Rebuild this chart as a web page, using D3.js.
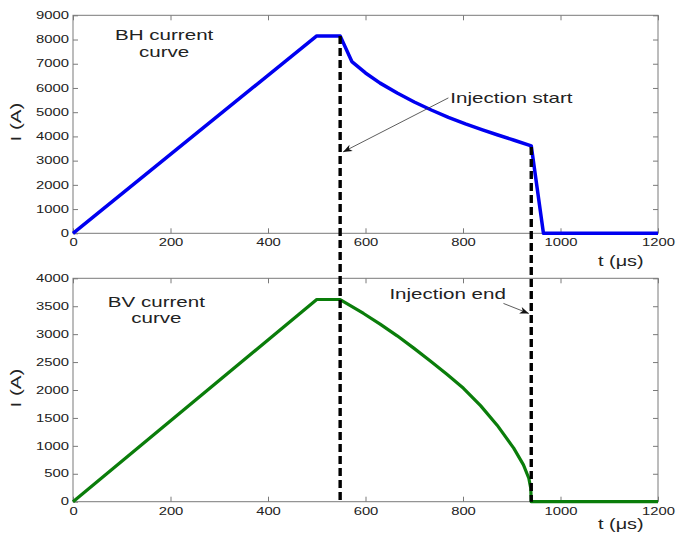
<!DOCTYPE html>
<html>
<head>
<meta charset="utf-8">
<script src="https://cdn.jsdelivr.net/npm/d3@7"></script>
<style>
  body { margin: 0; background: #fff; }
  text { font-family: "Liberation Sans", Arial, sans-serif; }
</style>
</head>
<body>
<div id="container"></div>
<script>
let w = 677;
let h = 535;

// DATA
let xTicks = [0, 200, 400, 600, 800, 1000, 1200];
let yTicksBH = [0, 1000, 2000, 3000, 4000, 5000, 6000, 7000, 8000, 9000];
let yTicksBV = [0, 500, 1000, 1500, 2000, 2500, 3000, 3500, 4000];

let bhT = [0, 500, 548, 572, 600, 630, 665, 700, 735, 770, 805, 840, 870, 905, 940, 965, 1200];
let bhI = [0, 8150, 8150, 7090, 6620, 6200, 5790, 5420, 5090, 4790, 4520, 4270, 4070, 3840, 3610, 0, 0];

let bvT = [0, 500, 548, 596, 630, 665, 699, 733, 767, 801, 836, 870, 904, 924, 935, 939, 940, 1200];
let bvI = [0, 3620, 3620, 3370, 3180, 2970, 2750, 2520, 2280, 2030, 1720, 1370, 960, 660, 420, 240, 0, 0];

// injection markers: time, and BH current where the dashed line starts
let injT = [548, 940];
let injTopI = [8150, 3560];

let viz = d3.select("#container").append("svg")
  .attr("width", w)
  .attr("height", h)
  .style("background-color", "white");

let x = d3.scaleLinear().domain([0, 1200]).range([73, 658]);
let yTop = d3.scaleLinear().domain([0, 9000]).range([233.3, 15.3]);
let yBot = d3.scaleLinear().domain([0, 4000]).range([501.7, 278.3]);

let frameColor = "#7a7a7a";
let textColor = "#222";
let tickStretch = 1.48;
let textStretch = 1.37;
let fmt = d3.format("d");

// stretched text helper (the figure's font is wide)
function addText(g, px, py, str, size, anchor, rot) {
  return g.append("text")
    .attr("transform", "translate(" + px + "," + py + ")" + (rot ? " rotate(" + rot + ")" : "") + " scale(" + textStretch + ",1)")
    .attr("text-anchor", anchor)
    .attr("font-size", size)
    .attr("fill", textColor)
    .text(str);
}

function drawFrame(y, yTicks) {
  let g = viz.append("g");
  let x0 = x.range()[0], x1 = x.range()[1];
  let y0 = y.range()[0], y1 = y.range()[1];

  let bottom = g.append("g").attr("transform", "translate(0," + y0 + ")")
    .call(d3.axisBottom(x).tickValues(xTicks).tickFormat(fmt).tickSizeInner(-5).tickSizeOuter(0).tickPadding(6));
  let top = g.append("g").attr("transform", "translate(0," + y1 + ")")
    .call(d3.axisTop(x).tickValues(xTicks).tickSizeInner(-5).tickSizeOuter(0).tickFormat(""));
  let left = g.append("g").attr("transform", "translate(" + x0 + ",0)")
    .call(d3.axisLeft(y).tickValues(yTicks).tickFormat(fmt).tickSizeInner(-5).tickSizeOuter(0).tickPadding(4));
  let right = g.append("g").attr("transform", "translate(" + x1 + ",0)")
    .call(d3.axisRight(y).tickValues(yTicks).tickSizeInner(-5).tickSizeOuter(0).tickFormat(""));

  [bottom, top, left, right].forEach(a => {
    a.select(".domain").remove();
    a.selectAll("line").attr("stroke", frameColor);
    a.selectAll("text")
      .attr("font-size", 10)
      .attr("font-family", "Liberation Sans, Arial, sans-serif")
      .attr("fill", textColor);
  });
  bottom.selectAll("text").attr("transform", "scale(" + tickStretch + ",1)");
  left.selectAll("text").attr("x", -4 / tickStretch).attr("transform", "scale(" + tickStretch + ",1)");

  g.append("rect")
    .attr("x", x0).attr("y", y1)
    .attr("width", x1 - x0).attr("height", y0 - y1)
    .attr("fill", "none")
    .attr("stroke", frameColor)
    .attr("stroke-width", 1);
  return g;
}

drawFrame(yTop, yTicksBH);
drawFrame(yBot, yTicksBV);

// CURVES
let bhData = bhT.map((t, i) => ({ t: t, v: bhI[i] }));
let bvData = bvT.map((t, i) => ({ t: t, v: bvI[i] }));

viz.append("path")
  .datum(bhData)
  .attr("d", d3.line().x(d => x(d.t)).y(d => yTop(d.v)))
  .attr("fill", "none")
  .attr("stroke", "#0000f0")
  .attr("stroke-width", 3.5)
  .attr("stroke-linejoin", "round");

viz.append("path")
  .datum(bvData)
  .attr("d", d3.line().x(d => x(d.t)).y(d => yBot(d.v)))
  .attr("fill", "none")
  .attr("stroke", "#0a7d0a")
  .attr("stroke-width", 3.2)
  .attr("stroke-linejoin", "round");

// DASHED INJECTION LINES
viz.selectAll(".inj").data(injT).enter()
  .append("line")
  .attr("class", "inj")
  .attr("x1", d => x(d))
  .attr("x2", d => x(d))
  .attr("y1", (d, i) => yTop(injTopI[i]))
  .attr("y2", yBot(0))
  .attr("stroke", "black")
  .attr("stroke-width", 3.4)
  .attr("stroke-dasharray", "8,4");

// ARROWS
viz.append("defs").append("marker")
  .attr("id", "head")
  .attr("viewBox", "-10 -5 12 10")
  .attr("refX", 0).attr("refY", 0)
  .attr("markerWidth", 12).attr("markerHeight", 10)
  .attr("markerUnits", "userSpaceOnUse")
  .attr("orient", "auto")
  .append("path")
  .attr("d", "M0,0 L-9,-3.5 L-6.5,0 L-9,3.5 Z")
  .attr("fill", "#111");

function arrow(y, from, to) {
  viz.append("line")
    .attr("x1", x(from[0])).attr("y1", y(from[1]))
    .attr("x2", x(to[0])).attr("y2", y(to[1]))
    .attr("stroke", "#333")
    .attr("stroke-width", 0.8)
    .attr("marker-end", "url(#head)");
}

arrow(yTop, [770, 5590], [554, 3360]);
arrow(yBot, [883, 3550], [935, 3370]);

// LABELS
addText(viz, x(774), yTop(5370), "Injection start", 15, "start");
addText(viz, x(649), yBot(3629), "Injection end", 15, "start");

addText(viz, x(187), yTop(7980), "BH current", 15, "middle");
addText(viz, x(187), yTop(7280), "curve", 15, "middle");
addText(viz, x(171), yBot(3491), "BV current", 15, "middle");
addText(viz, x(171), yBot(3194), "curve", 15, "middle");

addText(viz, 20.5, 122, "I (A)", 15, "middle", -90);
addText(viz, 20.5, 388, "I (A)", 15, "middle", -90);

addText(viz, 598, 266, "t (\u03bcs)", 14.5, "start");
addText(viz, 598, 529, "t (\u03bcs)", 14.5, "start");
</script>
</body>
</html>
